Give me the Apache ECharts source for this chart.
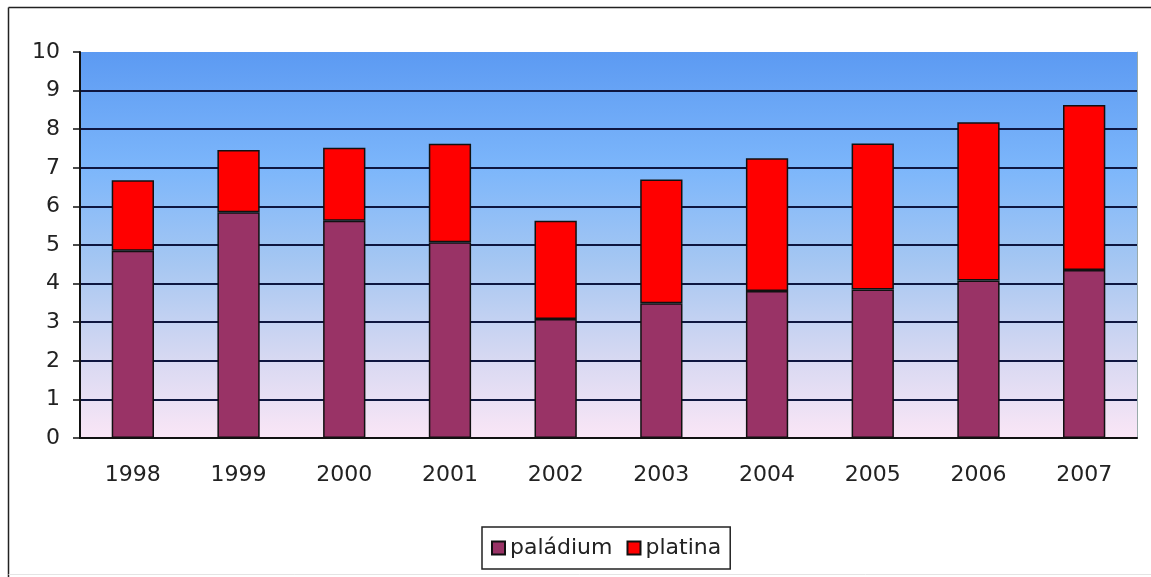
<!DOCTYPE html>
<html>
<head>
<meta charset="utf-8">
<script src="https://cdn.jsdelivr.net/npm/echarts@6/dist/echarts.min.js"></script>
<style>
  html, body { margin: 0; padding: 0; background: #fff; }
  #chart { width: 1151px; height: 577px; }
</style>
</head>
<body>
<div id="chart"></div>
<script>
// years on the x axis
const years = ['1998', '1999', '2000', '2001', '2002', '2003', '2004', '2005', '2006', '2007']
// bottom part of each stack
const paladium = [4.85, 5.85, 5.63, 5.07, 3.08, 3.49, 3.81, 3.85, 4.08, 4.35]
// totals, platina = total - paladium
const totals = [6.68, 7.46, 7.52, 7.62, 5.63, 6.70, 7.25, 7.63, 8.18, 8.63]
const platina = totals.map((t, i) => +(t - paladium[i]).toFixed(2))

const font = 'DejaVu Sans'
const chart = echarts.init(document.getElementById('chart'))

chart.setOption({
  animation: false,
  backgroundColor: '#fff',
  textStyle: { fontFamily: font },
  graphic: [
    // outer frame (left + top visible)
    { type: 'line', shape: { x1: 8.5, y1: 7.5, x2: 1151, y2: 7.5 }, style: { stroke: '#222', lineWidth: 1.5 } },
    { type: 'line', shape: { x1: 8.5, y1: 7.5, x2: 8.5, y2: 577 }, style: { stroke: '#222', lineWidth: 1.5 } },
    { type: 'line', shape: { x1: 8.5, y1: 574.5, x2: 1151, y2: 574.5 }, style: { stroke: '#e4e4e4', lineWidth: 1 } }
  ],
  grid: {
    left: 80, top: 52, right: 14, bottom: 139,
    show: true,
    borderWidth: 0,
    backgroundColor: new echarts.graphic.LinearGradient(0, 0, 0, 1, [
      { offset: 0, color: '#5c9af2' },
      { offset: 0.3, color: '#7cb6fb' },
      { offset: 0.55, color: '#a6c7f2' },
      { offset: 0.8, color: '#d8d9f2' },
      { offset: 1, color: '#fae6f6' }
    ])
  },
  legend: {
    left: 482, top: 527,
    padding: [10, 9, 10, 9],
    borderColor: '#222', borderWidth: 1.5,
    icon: 'rect',
    itemWidth: 13, itemHeight: 13, itemGap: 14,
    textStyle: { fontFamily: font, fontSize: 22, color: '#222' },
    data: ['paládium', 'platina']
  },
  xAxis: {
    type: 'category',
    data: years,
    axisLine: { lineStyle: { color: '#111', width: 2 } },
    axisTick: { length: 7, lineStyle: { color: '#111', width: 1.5 } },
    axisLabel: { fontSize: 22, color: '#222', margin: 26, fontFamily: font }
  },
  yAxis: [{
    type: 'value', min: 0, max: 10, interval: 1,
    axisLine: { show: true, lineStyle: { color: '#111', width: 2 } },
    axisTick: { show: true, length: 7, lineStyle: { color: '#111', width: 1.5 } },
    axisLabel: { fontSize: 22, color: '#222', margin: 20, fontFamily: font },
    splitLine: { show: true, showMaxLine: false, lineStyle: { color: '#0e1640', width: 2 } }
  }, {
    type: 'value', min: 0, max: 10, position: 'right',
    axisLine: { show: true, lineStyle: { color: '#9aa', width: 1 } },
    axisTick: { show: false }, axisLabel: { show: false }, splitLine: { show: false }
  }],
  series: [{
    name: 'paládium', type: 'bar', stack: 'total',
    data: paladium, barCategoryGap: '60%',
    itemStyle: { color: '#993366', borderColor: '#111', borderWidth: 1.5 }
  }, {
    name: 'platina', type: 'bar', stack: 'total',
    data: platina,
    itemStyle: { color: '#ff0000', borderColor: '#111', borderWidth: 1.5 }
  }]
})
</script>
</body>
</html>
